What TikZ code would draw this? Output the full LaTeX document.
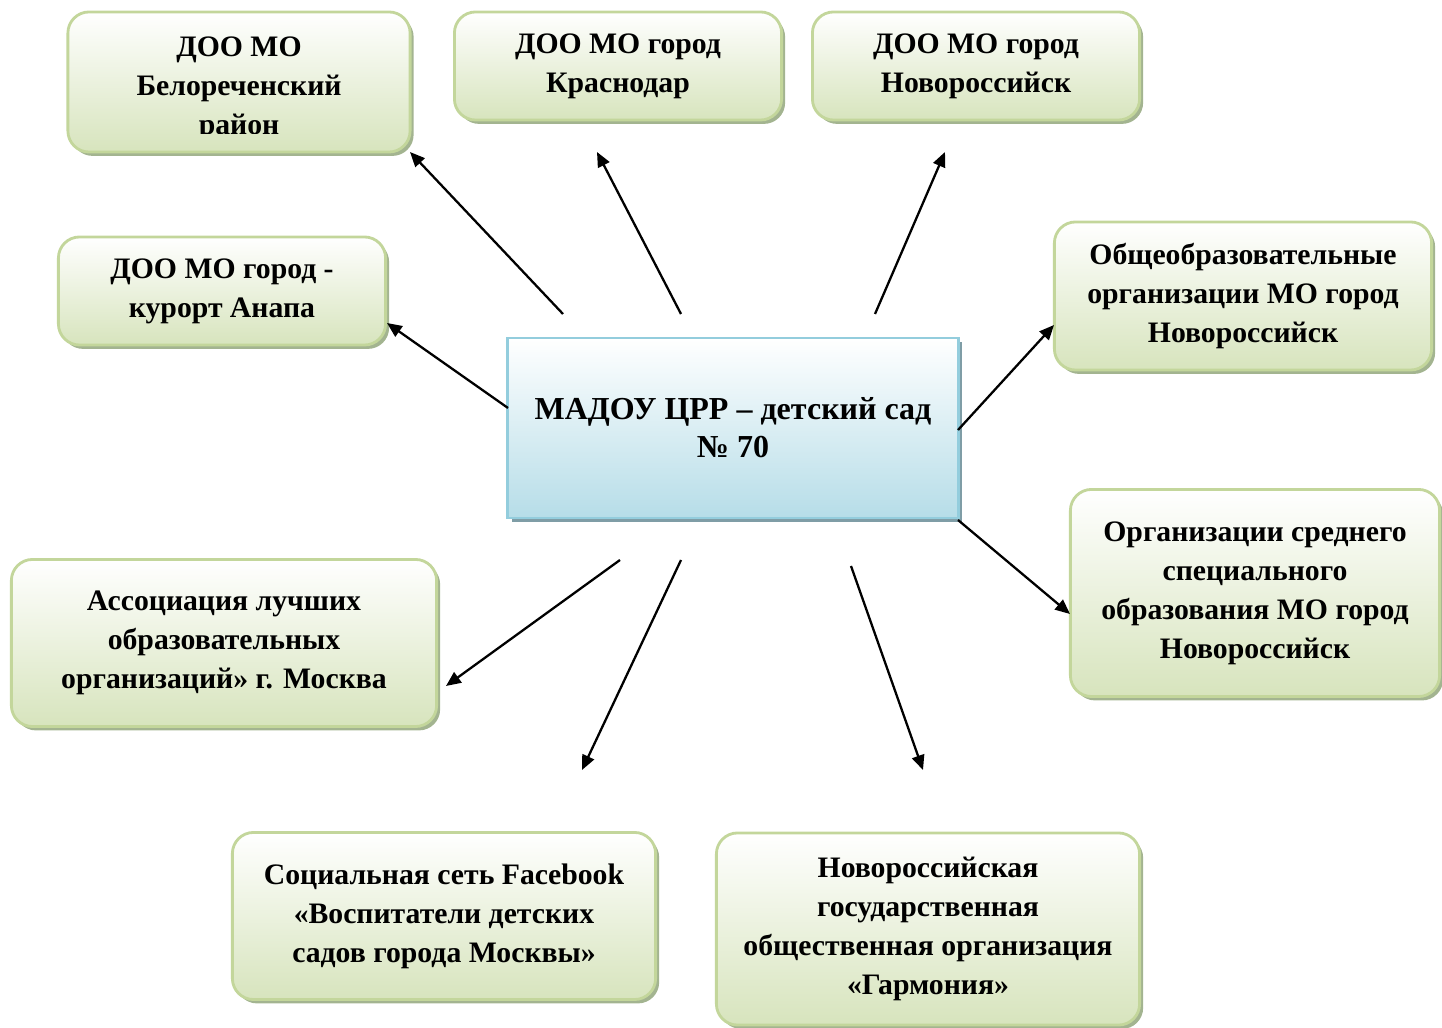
\documentclass[tikz,border=0pt]{standalone}
\usepackage{fontspec}
\setmainfont{Liberation Serif}
\usetikzlibrary{arrows.meta}
\usetikzlibrary{positioning}
\usetikzlibrary{shadows}
\usetikzlibrary{calc}

\definecolor{boxgreen}{HTML}{D7E4BD}
\definecolor{linegreen}{HTML}{C3D69B}
\definecolor{shadegreen}{HTML}{A3B490}
\definecolor{boxblue}{HTML}{B6DDE8}
\definecolor{lineblue}{HTML}{93CDDD}
\definecolor{shadeblue}{HTML}{7F9DA6}

\tikzset{
  boxfont/.style={font=\fontsize{8.45}{11.1}\selectfont\bfseries},
  gbox/.style={draw=linegreen, line width=0.8pt, rounded corners=6pt,
    top color=white, bottom color=boxgreen, align=center, inner sep=0pt, boxfont,
    drop shadow={shadow xshift=1pt, shadow yshift=-1.1pt, fill=shadegreen, opacity=1}},
  cbox/.style={draw=lineblue, line width=0.8pt,
    top color=white, bottom color=boxblue, align=center, inner sep=0pt,
    font=\fontsize{9.1}{10.8}\selectfont\bfseries,
    drop shadow={shadow xshift=1.1pt, shadow yshift=-1.1pt, fill=shadeblue, opacity=1}},
  link/.style={line width=0.65pt, -{Triangle[length=4.2pt,width=3.6pt]}}
}

\begin{document}
\begin{tikzpicture}[x=0.01cm,y=-0.01cm]
  \useasboundingbox (0,0) rectangle (1442,1028);

  \node[cbox, minimum width=4.5cm, minimum height=1.8cm] (mid) at (733,428)
    {МАДОУ ЦРР -- детский сад\\№ 70};

  \node[gbox, minimum width=3.42cm, minimum height=1.4cm] (bel) at (239,82) {};
  \begin{scope}
    \clip (bel.north west) rectangle ($(bel.south east)+(0,-20)$);
    \node[align=center, boxfont] (beltext) at (239,89)
      {ДОО МО\\Белореченский\\район};
  \end{scope}
  \node[gbox, minimum width=3.27cm, minimum height=1.08cm] (krd) at (618,66)
    {ДОО МО город\\Краснодар};
  \node[gbox, minimum width=3.27cm, minimum height=1.08cm] (nvr) at (976,66)
    {ДОО МО город\\Новороссийск};
  \node[gbox, minimum width=3.27cm, minimum height=1.08cm] (anp) at (222,291)
    {ДОО МО город -\\курорт Анапа};
  \node[gbox, minimum width=3.77cm, minimum height=1.48cm] (obsh) at (1243,296)
    {Общеобразовательные\\организации МО город\\Новороссийск};
  \node[gbox, minimum width=3.69cm, minimum height=2.07cm] (sso) at (1255,593)
    {Организации среднего\\специального\\образования МО город\\Новороссийск};
  \node[gbox, minimum width=4.25cm, minimum height=1.67cm] (ass) at (224,643)
    {Ассоциация лучших\\образовательных\\организаций» г. Москва};
  \node[gbox, minimum width=4.23cm, minimum height=1.67cm] (fb) at (444,916)
    {Социальная сеть Facebook\\«Воспитатели детских\\садов города Москвы»};
  \node[gbox, minimum width=4.23cm, minimum height=1.92cm] (garm) at (928,929)
    {Новороссийская\\государственная\\общественная организация\\«Гармония»};

  \coordinate (s1) at (563,314);  \coordinate (e1) at (410,152);
  \coordinate (s2) at (681,314);  \coordinate (e2) at (597,152);
  \coordinate (s3) at (875,314);  \coordinate (e3) at (945,152);
  \coordinate (s4) at (508,408);  \coordinate (e4) at (387,323);
  \coordinate (s5) at (958,430);  \coordinate (e5) at (1054,325);
  \coordinate (s6) at (958,520);  \coordinate (e6) at (1070,614);
  \coordinate (s7) at (620,560);  \coordinate (e7) at (446,686);
  \coordinate (s8) at (681,560);  \coordinate (e8) at (582,770);
  \coordinate (s9) at (851,566);  \coordinate (e9) at (923,770);

  \foreach \i in {1,...,9}
    \draw[link] (s\i) -- (e\i);
\end{tikzpicture}
\end{document}
